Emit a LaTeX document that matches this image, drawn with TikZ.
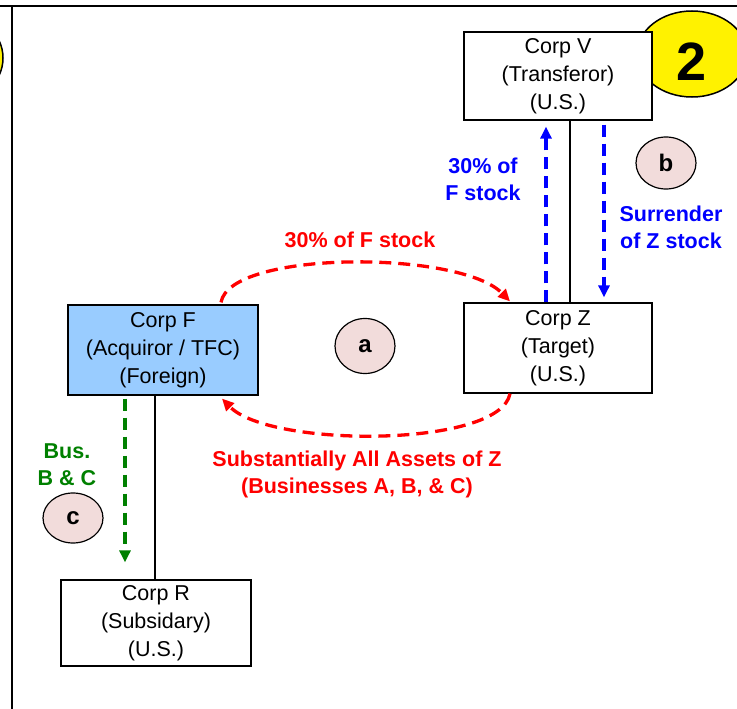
\documentclass[tikz,border=0pt]{standalone}
\usepackage{fontspec}
\setmainfont{Liberation Sans}
\usetikzlibrary{arrows.meta,shapes.geometric}
\definecolor{boxblue}{HTML}{99CCFF}
\definecolor{pinkfill}{HTML}{F2DCDB}
\definecolor{lblue}{HTML}{0000FF}
\definecolor{lred}{HTML}{FF0000}
\definecolor{lgreen}{HTML}{008000}
\tikzset{
  corp/.style={draw=black,line width=1.3pt,fill=white,minimum width=188pt,minimum height=88pt,align=center,inner sep=0pt,font=\fontsize{21.5}{28}\selectfont},
  tag/.style={draw=black,line width=1.2pt,fill=pinkfill,ellipse,minimum width=60pt,minimum height=52pt,inner sep=0pt,font=\fontsize{24}{26}\selectfont\bfseries},
  lbl/.style={align=center,inner sep=0pt,font=\fontsize{21.5}{27}\selectfont\bfseries},
  flow/.style={dashed,dash pattern=on 12pt off 7pt,line width=3.3pt,-{Triangle[length=12pt,width=11pt]}},
  link/.style={line width=1.2pt,draw=black}
}
\begin{document}
\begin{tikzpicture}[x=1pt,y=-1pt]
\useasboundingbox (0,0) rectangle (737,709);
\begin{scope}
\clip (0,0) rectangle (737,709);
% partial circle at left edge
\draw[line width=1.5pt,fill=yellow] (-45,58) ellipse [x radius=48,y radius=44];
% frame lines
\draw[line width=2.5pt] (0,6) -- (737,6);
\draw[line width=2.5pt] (12,6) -- (12,709);
% big yellow "2"
\node[draw=black,line width=1.5pt,fill=yellow,ellipse,minimum width=110pt,minimum height=86pt,inner sep=0pt] (two) at (692,54) {};
\node[inner sep=0pt,font=\fontsize{54}{56}\selectfont\bfseries] (twotxt) at ([yshift=-7.5pt]two.center) {2};
\end{scope}

\node[corp] (V) at (558,76) {Corp V\\(Transferor)\\(U.S.)};
\node[corp,minimum height=90pt] (Z) at (558,348) {Corp Z\\(Target)\\(U.S.)};
\node[corp,fill=boxblue,minimum width=190pt,minimum height=90pt] (F) at (163,350) {Corp F\\(Acquiror / TFC)\\(Foreign)};
\node[corp,minimum width=190pt,minimum height=86pt] (R) at (156,623) {Corp R\\(Subsidary)\\(U.S.)};

% ownership lines
\draw[link] ([xshift=12pt]V.south) -- ([xshift=12pt]V.south |- Z.north);
\draw[link] ([xshift=-8pt]F.south) -- ([xshift=-8pt]F.south |- R.north);

% blue flows
\draw[flow,lblue] ([xshift=-12pt]Z.north) -- ([xshift=-12pt,yshift=-6pt]V.south);
\draw[flow,lblue] ([xshift=46pt,yshift=-4pt]V.south) -- ([xshift=46pt,yshift=5pt]Z.north);
\node[lbl,text=lblue] (l30b) at (483,179) {30\% of\\F stock};
\node[lbl,text=lblue] (lsur) at (671,227) {Surrender\\of Z stock};
\node[tag] (b) at (666,163) {b};

% red flows
\coordinate (Ftop) at ([xshift=58pt,yshift=2pt]F.north);
\coordinate (Ztop) at ([xshift=-48pt,yshift=1pt]Z.north);
\coordinate (Zbot) at ([xshift=-48pt]Z.south);
\coordinate (Fbot) at ([xshift=59pt,yshift=-3pt]F.south);
\draw[flow,lred] (Ftop) .. controls (230,250) and (460,250) .. (Ztop);
\draw[flow,lred] (Zbot) .. controls (500,448) and (270,448) .. (Fbot);
\node[lbl,text=lred] (l30r) at (360,240) {30\% of F stock};
\node[lbl,text=lred] (lassets) at (357,474) {Substantially All Assets of Z\\(Businesses A, B, \& C)};
\node[tag,minimum height=55pt] (a) at (365,346) {a};

% green flow
\draw[flow,lgreen] ([xshift=-38pt,yshift=-3pt]F.south) -- ([xshift=-31pt,yshift=17pt]R.north);
\node[lbl,text=lgreen] (lbus) at (67,465) {Bus.\\B \& C};
\node[tag,minimum height=50pt] (c) at (73,518) {c};
\end{tikzpicture}
\end{document}
